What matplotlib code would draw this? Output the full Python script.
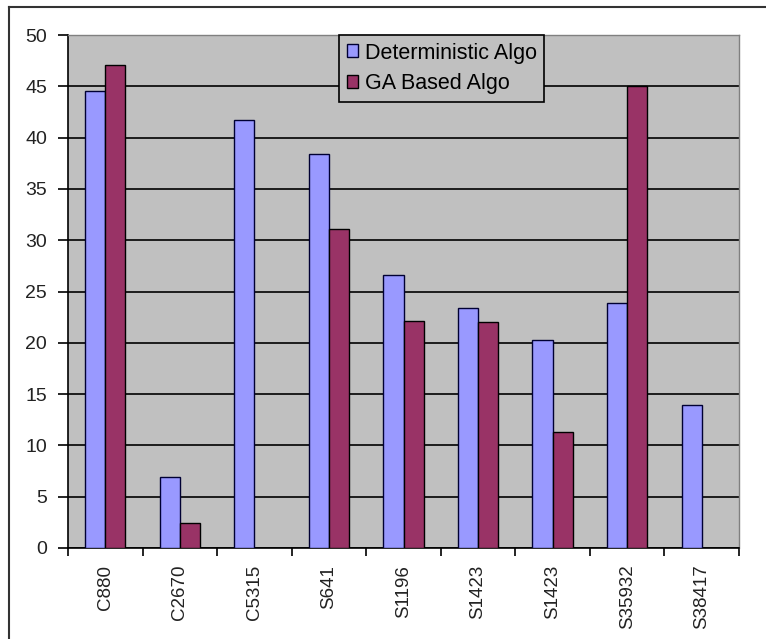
import matplotlib.pyplot as plt
import numpy as np
from matplotlib.lines import Line2D
from matplotlib.patches import Patch

circuits = ["C880", "C2670", "C5315", "S641", "S1196", "S1423", "S1423", "S35932", "S38417"]
deterministic = [44.5, 6.9, 41.7, 38.4, 26.6, 23.4, 20.3, 23.9, 13.9]
ga_based = [47.1, 2.4, 0.0, 31.1, 22.1, 22.0, 11.3, 45.0, 0.0]
yticks = [0, 5, 10, 15, 20, 25, 30, 35, 40, 45, 50]

BLUE = "#9999FF"
PLUM = "#993366"
PANEL = "#C0C0C0"

plt.rcParams["font.family"] = ["Liberation Sans", "DejaVu Sans"]

fig = plt.figure(figsize=(7.66, 6.39), dpi=100)
ax = fig.add_axes([68 / 766, 1 - 548 / 639, (739 - 68) / 766, (548 - 35) / 639])

x = np.arange(len(circuits))
w = 0.27
ax.bar(x - w / 2, deterministic, w, color=BLUE, edgecolor="#000033", linewidth=1.0, zorder=3)
ga = np.array(ga_based)
ax.bar(x[ga > 0] + w / 2, ga[ga > 0], w, color=PLUM, edgecolor="#000000", linewidth=1.0, zorder=3)

ax.set_facecolor(PANEL)
ax.set_xlim(-0.5, len(circuits) - 0.5)
ax.set_ylim(0, 50)
ax.set_yticks(yticks)
ax.set_yticklabels([str(t) for t in yticks], fontsize=14, color="#222222")
ax.yaxis.grid(True, color="black", linewidth=1.2, zorder=1)
ax.set_axisbelow(True)

# categories sit between the tick marks, labels rotated upright
ax.set_xticks(np.arange(len(circuits) + 1) - 0.5)
ax.set_xticklabels([])
ax.set_xticks(x, minor=True)
ax.set_xticklabels(circuits, minor=True, rotation=90, fontsize=13.5, color="#222222")
ax.tick_params(axis="x", which="minor", length=0, pad=12)
ax.tick_params(axis="x", which="major", length=6, width=1.2, direction="out")
ax.tick_params(axis="y", length=7, width=1.2, direction="out", pad=8)

for side in ("top", "right"):
    ax.spines[side].set_color("#808080")
    ax.spines[side].set_linewidth(1.0)
for side in ("left", "bottom"):
    ax.spines[side].set_color("black")
    ax.spines[side].set_linewidth(1.2)

handles = [
    Patch(facecolor=BLUE, edgecolor="#000033", label="Deterministic Algo"),
    Patch(facecolor=PLUM, edgecolor="black", label="GA Based Algo"),
]
leg = ax.legend(
    handles=handles,
    loc="upper left",
    bbox_to_anchor=((339 - 68) / (739 - 68), 1.0),
    fontsize=15.5,
    frameon=True,
    fancybox=False,
    handlelength=0.55,
    handleheight=0.55,
    handletextpad=0.3,
    labelspacing=0.45,
    borderpad=0.35,
    borderaxespad=0.0,
)
leg.get_frame().set_facecolor(PANEL)
leg.get_frame().set_edgecolor("black")
leg.get_frame().set_linewidth(1.2)
leg.get_frame().set_alpha(1.0)
leg.set_zorder(5)

# outer chart border (left and top edges only)
fig.add_artist(Line2D([9 / 766, 9 / 766], [0, 1 - 7 / 639], transform=fig.transFigure, color="#333333", lw=1.5))
fig.add_artist(Line2D([9 / 766, 1], [1 - 7 / 639, 1 - 7 / 639], transform=fig.transFigure, color="#333333", lw=1.5))

fig.savefig("out.png", dpi=100, facecolor="white")
